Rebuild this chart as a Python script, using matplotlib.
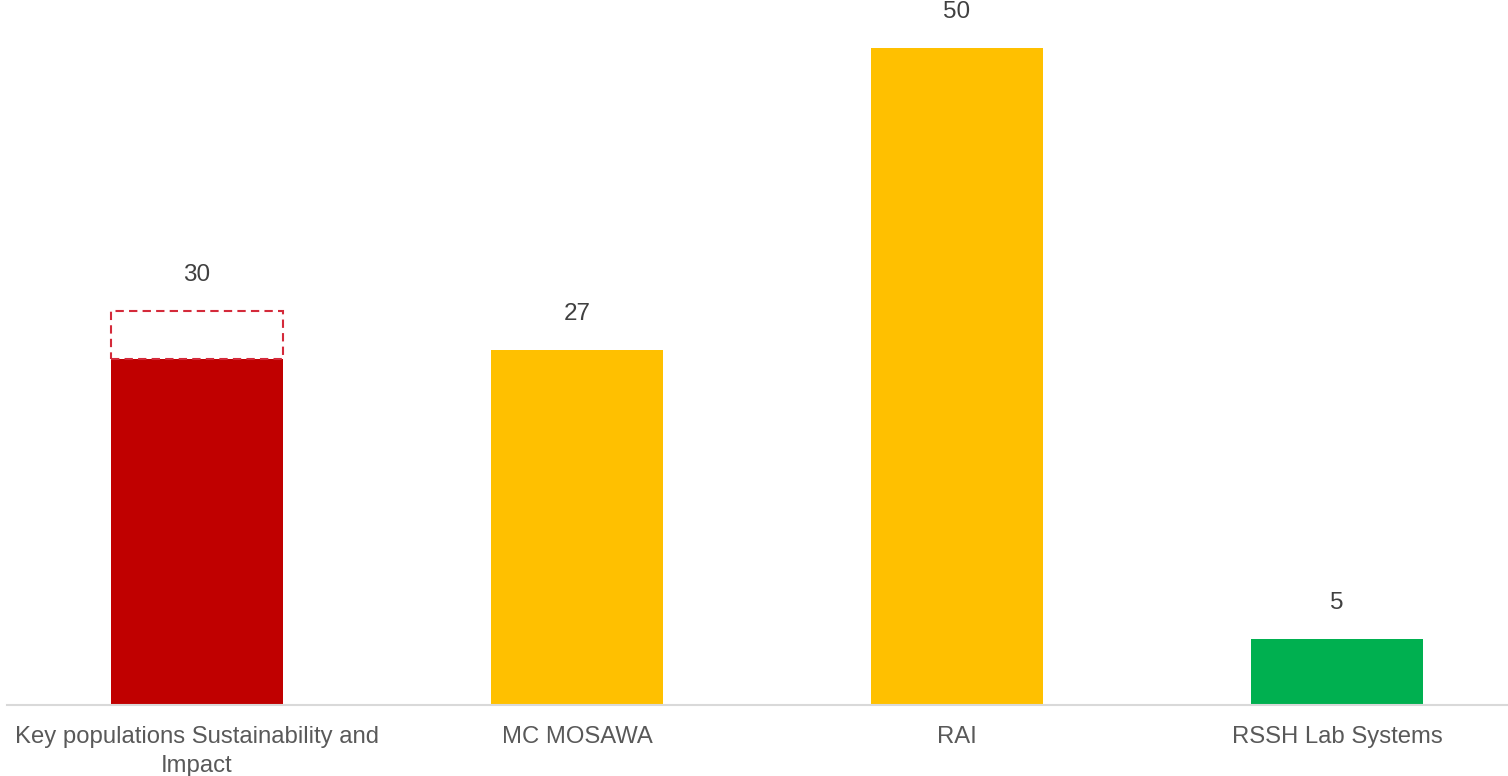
import matplotlib
matplotlib.use("Agg")
import matplotlib.pyplot as plt

categories = ["Key populations Sustainability and\nImpact", "MC MOSAWA", "RAI", "RSSH Lab Systems"]
values = [26.3, 27, 50, 5]
targets = [30, None, None, None]
labels = ["30", "27", "50", "5"]
colors = ["#C00000", "#FFC000", "#FFC000", "#00B050"]

plt.rcParams['font.family'] = ['Liberation Sans', 'DejaVu Sans']
fig = plt.figure(figsize=(15.08, 7.76), dpi=100)
ax = fig.add_axes([7/1508, 71/776, 1501/1508, 703/776])

x = list(range(len(categories)))
w = 0.453
ax.bar(x, values, width=w, color=colors, zorder=2)
for i, t in enumerate(targets):
    if t is not None:
        ax.bar(i, t - values[i], bottom=values[i], width=w, fill=False,
               edgecolor="#D42A3A", linestyle=(0, (4, 2.5)), linewidth=1.5, zorder=3)

for i in x:
    top = targets[i] if targets[i] is not None else values[i]
    ax.annotate(labels[i], (i, top), xytext=(0, 26), textcoords="offset points",
                ha="center", va="center", fontsize=17.5, color="#404040")

ax.set_xlim(-0.5, 3.45)
ax.set_ylim(0, 53.5)
ax.set_xticks(x)
ax.set_xticklabels(categories, fontsize=17.2, color="#595959", linespacing=1.45)
ax.tick_params(axis='x', length=0, pad=15)
ax.set_yticks([])
for s in ["top", "right", "left"]:
    ax.spines[s].set_visible(False)
ax.spines["bottom"].set_color("#D9D9D9")
ax.spines["bottom"].set_linewidth(1.5)

fig.savefig("out.png", dpi=100)
